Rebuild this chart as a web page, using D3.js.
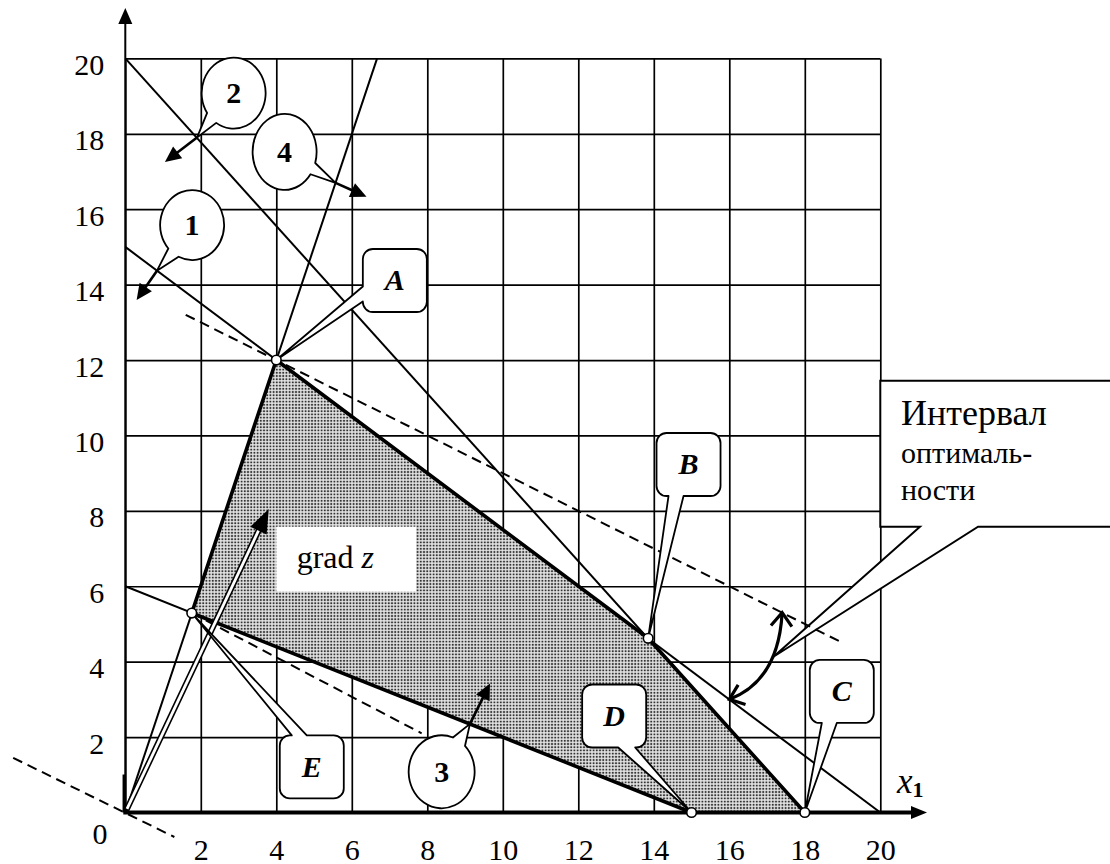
<!DOCTYPE html>
<html>
<head>
<meta charset="utf-8">
<script src="https://cdn.jsdelivr.net/npm/d3@7"></script>
<style>
  html, body { margin: 0; padding: 0; background: #fff; }
  svg { display: block; }
  text { font-family: "Liberation Serif", "Times New Roman", "DejaVu Serif", serif; fill: #000; }
</style>
</head>
<body>
<svg id="chart" width="1110" height="864"></svg>
<script>
// ---------- data ----------
const gridTicks = [0, 2, 4, 6, 8, 10, 12, 14, 16, 18, 20];
const xTickLabels = [2, 4, 6, 8, 10, 12, 14, 16, 18, 20];
const yTickLabels = [2, 4, 6, 8, 10, 12, 14, 16, 18, 20];

// constraint lines (end points)
const line1 = [[0, 15], [20, 0]];
const line2 = [[0, 20], [18, 0]];
const line3 = [[0, 6], [15, 0]];
const line4 = [[0, 0], [6.67, 20]];

// vertices of the feasible region
const vertexNames = ["A", "B", "C", "D", "E"];
const vertexX = [4, 13.85, 18, 15, 1.76];
const vertexY = [12, 4.62, 0, 0, 5.29];

// level lines of z (dashed)
const levelA = [[1.6, 13.2], [19, 4.5]];
const levelE = [[1.76, 5.29], [7.85, 2.1]];
const level0 = [[-2.97, 1.45], [1.3, -0.65]];

// gradient vector
const gradZ = [[0, 0], [3.8, 8.05]];

// half-plane arrows for the constraints
const arrowNames = ["1", "2", "3", "4"];
const arrowStart = [[0.84, 14.37], [1.9, 17.9], [9.13, 2.35], [5.57, 16.7]];
const arrowEnd = [[0.30, 13.59], [1.05, 17.25], [9.66, 3.42], [6.39, 16.33]];
const circleCenter = [[1.77, 15.58], [2.87, 19.08], [8.38, 1.08], [4.22, 17.52]];

// vertex callouts
const boxCenter = [[7.14, 14.11], [14.92, 9.23], [18.98, 3.21], [12.95, 2.56], [4.94, 1.21]];

// interval-of-optimality arc
const arcStart = [17.4, 5.3];
const arcCtrl = [17.3, 3.49];
const arcEnd = [16.0, 3.0];

// interval callout
const intervalBox = { left: 20, top: 11.45, bottom: 7.58, base1: 21.05, base2: 22.59, tip: [17.17, 4.13] };
const intervalText = ["Интервал", "оптималь-", "ности"];

// ---------- drawing ----------
const FONT = '"Liberation Serif", "Times New Roman", "DejaVu Serif", serif';
const svg = d3.select("#chart").attr("font-family", FONT);
const x = d3.scaleLinear().domain([0, 20]).range([125.3, 880.3]);
const y = d3.scaleLinear().domain([0, 20]).range([812.5, 58.4]);
const P = p => [x(p[0]), y(p[1])];

// dotted fill pattern
const defs = svg.append("defs");
const pat = defs.append("pattern").attr("id", "dots").attr("patternUnits", "userSpaceOnUse")
  .attr("width", 3.2).attr("height", 3.2);
pat.append("rect").attr("width", 3.2).attr("height", 3.2).attr("fill", "#e2e2e2");
pat.append("circle").attr("cx", 1.6).attr("cy", 1.6).attr("r", 1.05).attr("fill", "#333");

// grid via axes
const gx = svg.append("g").attr("transform", `translate(0,${y(0)})`)
  .call(d3.axisBottom(x).tickValues(gridTicks).tickSize(-(y(0) - y(20))).tickFormat(""));
gx.select(".domain").remove();
gx.selectAll("line").attr("stroke", "#000").attr("stroke-width", 1.7);
const gy = svg.append("g").attr("transform", `translate(${x(0)},0)`)
  .call(d3.axisLeft(y).tickValues(gridTicks).tickSize(-(x(20) - x(0))).tickFormat(""));
gy.select(".domain").remove();
gy.selectAll("line").attr("stroke", "#000").attr("stroke-width", 1.7);

// feasible region
const poly = vertexNames.map((n, i) => P([vertexX[i], vertexY[i]]));
svg.append("path").attr("d", "M" + poly.join("L") + "Z").attr("fill", "url(#dots)");

// interval callout
const ib = intervalBox;
svg.append("path")
  .attr("d", `M1120,${y(ib.top)}L${x(ib.left)},${y(ib.top)}L${x(ib.left)},${y(ib.bottom)}L${x(ib.base1)},${y(ib.bottom)}L${P(ib.tip)}L${x(ib.base2)},${y(ib.bottom)}L1120,${y(ib.bottom)}`)
  .attr("fill", "#fff").attr("stroke", "#000").attr("stroke-width", 2);

// constraint lines (thin)
const lineGen = d3.line().x(d => x(d[0])).y(d => y(d[1]));
[line1, line2, line3, line4].forEach(l => {
  svg.append("path").attr("d", lineGen(l)).attr("stroke", "#000").attr("stroke-width", 2).attr("fill", "none");
});

// region edges (thick)
const vi = n => vertexNames.indexOf(n);
[["A", "B"], ["B", "C"], ["D", "E"], ["E", "A"]].forEach(([a, b]) => {
  svg.append("path").attr("d", lineGen([[vertexX[vi(a)], vertexY[vi(a)]], [vertexX[vi(b)], vertexY[vi(b)]]]))
    .attr("stroke", "#000").attr("stroke-width", 3.6).attr("stroke-linecap", "round").attr("fill", "none");
});

// dashed level lines
[levelA, levelE, level0].forEach(l => {
  svg.append("path").attr("d", lineGen(l)).attr("stroke", "#000").attr("stroke-width", 2)
    .attr("stroke-dasharray", "10,6").attr("fill", "none");
});

// axes
svg.append("line").attr("x1", x(0) - 2).attr("y1", y(0)).attr("x2", 912).attr("y2", y(0))
  .attr("stroke", "#000").attr("stroke-width", 4);
svg.append("path").attr("d", `M911,${y(0) - 6.5}L927,${y(0)}L911,${y(0) + 6.5}Z`).attr("fill", "#000");
svg.append("line").attr("x1", x(0)).attr("y1", y(0)).attr("x2", x(0)).attr("y2", 20)
  .attr("stroke", "#000").attr("stroke-width", 2);
svg.append("line").attr("x1", x(0) - 1.5).attr("y1", y(0)).attr("x2", x(0) - 1.5).attr("y2", y(0) - 38)
  .attr("stroke", "#000").attr("stroke-width", 2.5);
svg.append("path").attr("d", `M${x(0) - 7},24L${x(0)},8L${x(0) + 7},24Z`).attr("fill", "#000");

// tick labels via axes
const ax = svg.append("g").attr("transform", `translate(0,${y(0)})`)
  .call(d3.axisBottom(x).tickValues(xTickLabels).tickSize(0));
ax.select(".domain").remove();
ax.attr("font-family", FONT);
ax.selectAll("text").attr("y", 47).attr("dy", null).style("font-size", "30px");
const ay = svg.append("g").attr("transform", `translate(${x(0)},0)`)
  .call(d3.axisLeft(y).tickValues(yTickLabels).tickSize(0).tickPadding(21));
ay.select(".domain").remove();
ay.attr("font-family", FONT);
ay.selectAll("text").attr("dy", null).attr("y", 16).style("font-size", "30px");
svg.append("text").attr("x", 100).attr("y", 844).attr("text-anchor", "middle").style("font-size", "30px").text("0");

// x1 label
const xl = svg.append("text").attr("x", 897).attr("y", 793);
xl.append("tspan").style("font-style", "italic").style("font-size", "35px").text("x");
xl.append("tspan").attr("dy", 4).style("font-weight", "bold").style("font-size", "22px").text("1");

// gradient arrow (double line)
{
  const o = P(gradZ[0]), t = P(gradZ[1]);
  const dx = t[0] - o[0], dy = t[1] - o[1], len = Math.hypot(dx, dy);
  const ux = dx / len, uy = dy / len, nx = -uy, ny = ux;
  const hl = 24, hw = 9;
  const bx = t[0] - ux * hl, by = t[1] - uy * hl;
  const sx = t[0] - ux * (hl - 3), sy = t[1] - uy * (hl - 3);
  svg.append("line").attr("x1", o[0]).attr("y1", o[1]).attr("x2", sx).attr("y2", sy)
    .attr("stroke", "#000").attr("stroke-width", 6);
  svg.append("line").attr("x1", o[0] + ux * 4).attr("y1", o[1] + uy * 4).attr("x2", sx).attr("y2", sy)
    .attr("stroke", "#fff").attr("stroke-width", 2.8);
  svg.append("path").attr("d", `M${t}L${bx + nx * hw},${by + ny * hw}L${bx - nx * hw},${by - ny * hw}Z`).attr("fill", "#000");
}

// grad z label box
svg.append("rect").attr("x", x(4.0)).attr("y", y(7.58)).attr("width", x(7.7) - x(4.0)).attr("height", y(5.86) - y(7.58))
  .attr("fill", "#fff");
const gt = svg.append("text").attr("x", x(4.54)).attr("y", y(6.49)).style("font-size", "32px");
gt.append("tspan").text("grad ");
gt.append("tspan").style("font-style", "italic").text("z");

// filled arrow helper
function filledArrow(p0, p1, hl, hw, sw) {
  const a = P(p0), b = P(p1);
  const dx = b[0] - a[0], dy = b[1] - a[1], len = Math.hypot(dx, dy);
  const ux = dx / len, uy = dy / len, nx = -uy, ny = ux;
  const bx = b[0] - ux * hl, by = b[1] - uy * hl;
  svg.append("line").attr("x1", a[0]).attr("y1", a[1]).attr("x2", bx + ux * 2).attr("y2", by + uy * 2)
    .attr("stroke", "#000").attr("stroke-width", sw);
  svg.append("path").attr("d", `M${b}L${bx + nx * hw},${by + ny * hw}L${bx - nx * hw},${by - ny * hw}Z`).attr("fill", "#000");
}

// circle callouts (speech bubbles) + arrows
const circleTail = [[115, 138], [123, 146], [-70, -45], [17, 36]];
const circleR = [[32, 35], [32, 35.5], [33, 36.5], [32, 38]];
arrowNames.forEach((n, i) => {
  filledArrow(arrowStart[i], arrowEnd[i], 16, 7.5, 2.6);
  const c = P(circleCenter[i]);
  const [rx, ry] = circleR[i];
  const [t1, t2] = circleTail[i].map(d => d * Math.PI / 180);
  const p1 = [c[0] + rx * Math.cos(t1), c[1] + ry * Math.sin(t1)];
  const p2 = [c[0] + rx * Math.cos(t2), c[1] + ry * Math.sin(t2)];
  const tip = P(arrowStart[i]);
  svg.append("path").attr("d", `M${p2}A${rx},${ry} 0 1 1 ${p1}L${tip}Z`)
    .attr("fill", "#fff").attr("stroke", "#000").attr("stroke-width", 1.8).attr("stroke-linejoin", "round");
  svg.append("text").attr("x", c[0]).attr("y", c[1] + 10).attr("text-anchor", "middle")
    .style("font-size", "30px").style("font-weight", "bold").text(n);
});

// rounded-rect callouts for vertices
const boxSide = ["left", "bottom", "bottom", "bottom", "top"];
const boxTail = [[6, 21], [-20, -5], [-20, -5], [4, 21], [-20, -5]];
function rectCallout(c, w, h, r, side, a, tip) {
  const L = c[0] - w / 2, R = c[0] + w / 2, T = c[1] - h / 2, B = c[1] + h / 2;
  let d = `M${L + r},${T}`;
  if (side === "top") d += `L${c[0] + a[0]},${T}L${tip}L${c[0] + a[1]},${T}`;
  d += `L${R - r},${T}A${r},${r} 0 0 1 ${R},${T + r}`;
  d += `L${R},${B - r}A${r},${r} 0 0 1 ${R - r},${B}`;
  if (side === "bottom") d += `L${c[0] + a[1]},${B}L${tip}L${c[0] + a[0]},${B}`;
  d += `L${L + r},${B}A${r},${r} 0 0 1 ${L},${B - r}`;
  if (side === "left") d += `L${L},${c[1] + a[1]}L${tip}L${L},${c[1] + a[0]}`;
  d += `L${L},${T + r}A${r},${r} 0 0 1 ${L + r},${T}Z`;
  return d;
}
vertexNames.forEach((n, i) => {
  const c = P(boxCenter[i]);
  const tip = P([vertexX[i], vertexY[i]]);
  svg.append("path").attr("d", rectCallout(c, 64, 63, 10, boxSide[i], boxTail[i], tip))
    .attr("fill", "#fff").attr("stroke", "#000").attr("stroke-width", 1.8).attr("stroke-linejoin", "round");
  svg.append("text").attr("x", c[0]).attr("y", c[1] + 10).attr("text-anchor", "middle")
    .style("font-size", "30px").style("font-weight", "bold").style("font-style", "italic").text(n);
});

// interval-of-optimality curved double arrow
{
  const p0 = P(arcStart), pc = P(arcCtrl), p2 = P(arcEnd);
  svg.append("path").attr("d", `M${p0}Q${pc} ${p2}`).attr("fill", "none").attr("stroke", "#000").attr("stroke-width", 3.2);
  function vHead(tip, from) {
    const dx = from[0] - tip[0], dy = from[1] - tip[1], len = Math.hypot(dx, dy);
    const ux = dx / len, uy = dy / len, L = 17, ang = 38 * Math.PI / 180;
    const r1 = [tip[0] + L * (ux * Math.cos(ang) - uy * Math.sin(ang)), tip[1] + L * (ux * Math.sin(ang) + uy * Math.cos(ang))];
    const r2 = [tip[0] + L * (ux * Math.cos(-ang) - uy * Math.sin(-ang)), tip[1] + L * (ux * Math.sin(-ang) + uy * Math.cos(-ang))];
    svg.append("path").attr("d", `M${r1}L${tip}L${r2}`).attr("fill", "none").attr("stroke", "#000")
      .attr("stroke-width", 3.2).attr("stroke-linejoin", "miter");
  }
  vHead(p0, pc);
  vHead(p2, pc);
}

// interval text
const itSizes = [36, 30, 30];
const itY = [425, 463, 500];
intervalText.forEach((t, i) => {
  svg.append("text").attr("x", 901).attr("y", itY[i]).style("font-size", itSizes[i] + "px").text(t);
});

// vertex markers
vertexNames.forEach((n, i) => {
  svg.append("circle").attr("cx", x(vertexX[i])).attr("cy", y(vertexY[i])).attr("r", 4.8)
    .attr("fill", "#fff").attr("stroke", "#000").attr("stroke-width", 1.6);
});
</script>
</body>
</html>
